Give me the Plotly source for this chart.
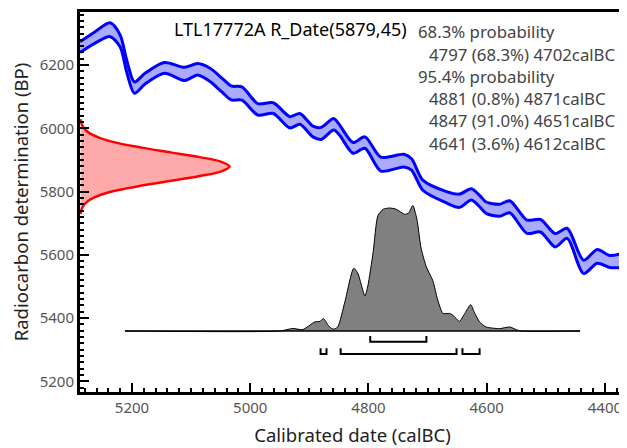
import plotly.graph_objects as go

# ---------------- data ----------------
sample_name = "LTL17772A"
r_date_bp = 5879
r_date_err = 45

# calibration curve: calBC, BP centre, 1-sigma half width
curve_calbc = [5288, 5263, 5237, 5220, 5209, 5196, 5178, 5145, 5111, 5089,
               5068, 5048, 5032, 5014, 4987, 4961, 4933, 4916, 4894, 4880,
               4859, 4849, 4826, 4806, 4779, 4740, 4727, 4708, 4668, 4646,
               4626, 4612, 4601, 4578, 4561, 4532, 4509, 4484, 4464, 4436,
               4413, 4392, 4367]
curve_bp = [6257, 6287, 6312, 6276, 6197, 6129, 6157, 6191, 6172, 6187,
            6169, 6137, 6112, 6110, 6060, 6064, 6019, 6030, 5990, 5984,
            6013, 5995, 5938, 5955, 5887, 5898, 5886, 5820, 5782, 5771,
            5791, 5770, 5749, 5741, 5752, 5689, 5692, 5646, 5668, 5562,
            5595, 5579, 5583]
curve_err = [17, 18, 22, 19, 19, 18, 17, 17, 21, 18,
             21, 22, 22, 21, 18, 17, 18, 17, 17, 19,
             18, 16, 17, 18, 22, 20, 18, 16, 18, 21,
             18, 18, 18, 19, 19, 21, 20, 21, 16, 21,
             22, 19, 23]

lik_bp = [5729, 5744, 5759, 5774, 5789, 5804, 5819, 5834, 5849, 5864, 5879,
          5894, 5909, 5924, 5939, 5954, 5969, 5984, 5999, 6014, 6029]
lik_density = [0.004, 0.011, 0.029, 0.066, 0.135, 0.249, 0.411, 0.607, 0.801, 0.946, 1.0,
               0.946, 0.801, 0.607, 0.411, 0.249, 0.135, 0.066, 0.029, 0.011, 0.004]

# calibrated posterior (relative probability)
post_calbc = [5212, 4950, 4928, 4911, 4891, 4882, 4876, 4868, 4860, 4852,
              4840, 4825, 4818, 4806, 4801, 4792, 4784, 4775, 4764, 4753,
              4739, 4732, 4725, 4718, 4711, 4702, 4691, 4683, 4674, 4663,
              4657, 4646, 4637, 4627, 4621, 4612, 4601, 4578, 4561, 4550,
              4542, 4442]
post_prob = [0, 0, 0.02, 0.011, 0.072, 0.077, 0.099, 0.045, 0.014, 0.032,
             0.23, 0.50, 0.46, 0.28, 0.36, 0.63, 0.92, 0.97, 0.98, 0.97,
             0.93, 0.94, 1.0, 0.89, 0.66, 0.51, 0.40, 0.25, 0.14, 0.14,
             0.125, 0.077, 0.14, 0.21, 0.15, 0.072, 0.032, 0.019, 0.032, 0.011,
             0, 0]

# ranges: (from, probability %, to)
range_68 = [(4797, 68.3, 4702)]
range_95 = [(4881, 0.8, 4871), (4847, 91.0, 4651), (4641, 3.6, 4612)]

# ---------------- style ----------------
x_range = [5288, 4366]
y_range = [5166, 6368]
lik_width = 253          # calBC units for peak of red likelihood
post_base = 5359         # BP level of posterior baseline
post_height = 397        # BP units for posterior peak
bracket68_y = 5325
bracket95_y = 5286
bracket_tick = 18

FONT = "Noto Sans"
BLUE = "#0000ff"
BLUE_FILL = "rgb(170,170,255)"
RED = "#ff0000"
RED_FILL = "rgb(255,170,170)"

fig = go.Figure()

# calibration curve band
upper = [b + e for b, e in zip(curve_bp, curve_err)]
lower = [b - e for b, e in zip(curve_bp, curve_err)]
fig.add_trace(go.Scatter(x=curve_calbc, y=upper, mode="lines",
                         line=dict(color=BLUE, width=3, shape="spline", smoothing=0.8),
                         hoverinfo="skip", showlegend=False))
fig.add_trace(go.Scatter(x=curve_calbc, y=lower, mode="lines",
                         line=dict(color=BLUE, width=3, shape="spline", smoothing=0.8),
                         fill="tonexty", fillcolor=BLUE_FILL,
                         hoverinfo="skip", showlegend=False))

# radiocarbon likelihood (red)
lik_x = [x_range[0] - d * lik_width for d in lik_density]
fig.add_trace(go.Scatter(x=lik_x, y=lik_bp, mode="lines",
                         line=dict(color=RED, width=2.5, shape="spline"),
                         fill="toself", fillcolor=RED_FILL,
                         hoverinfo="skip", showlegend=False))

# posterior (grey)
fig.add_trace(go.Scatter(x=[post_calbc[0], post_calbc[-1]], y=[post_base, post_base],
                         mode="lines", line=dict(color="black", width=1.5),
                         hoverinfo="skip", showlegend=False))
post_y = [post_base + p * post_height for p in post_prob]
fig.add_trace(go.Scatter(x=post_calbc, y=post_y, mode="lines",
                         line=dict(color="black", width=1, shape="spline", smoothing=0.6),
                         fill="tonexty", fillcolor="rgb(128,128,128)",
                         hoverinfo="skip", showlegend=False))


def bracket_xy(ranges, level):
    xs, ys = [], []
    for s, _, e in ranges:
        xs += [s, s, e, e, None]
        ys += [level + bracket_tick, level, level, level + bracket_tick, None]
    return xs, ys


for rng, lvl in ((range_68, bracket68_y), (range_95, bracket95_y)):
    bx, by = bracket_xy(rng, lvl)
    fig.add_trace(go.Scatter(x=bx, y=by, mode="lines",
                             line=dict(color="black", width=2),
                             hoverinfo="skip", showlegend=False))

# ---------------- texts ----------------
fig.add_annotation(x=0.169, y=0.954, xref="paper", yref="paper",
                   xanchor="left", yanchor="middle", showarrow=False,
                   text=f"{sample_name} R_Date({r_date_bp},{r_date_err})",
                   font=dict(family=FONT, size=18, color="black"))

lines = [("68.3% probability", False)]
lines += [(f"{s} ({p:.1f}%) {e}calBC", True) for s, p, e in range_68]
lines += [("95.4% probability", False)]
lines += [(f"{s} ({p:.1f}%) {e}calBC", True) for s, p, e in range_95]
y0 = 0.948
dy = 22.3 / 380
for i, (t, indent) in enumerate(lines):
    fig.add_annotation(x=0.637 if indent else 0.6157, y=y0 - i * dy,
                       xref="paper", yref="paper", xanchor="left", yanchor="middle",
                       showarrow=False, text=t,
                       font=dict(family=FONT, size=16.8, color="#444444"))

axis_common = dict(
    showgrid=False, zeroline=False, showline=True, linewidth=3, linecolor="black",
    mirror=True, ticks="inside", ticklen=9, tickwidth=2, tickcolor="black",
    tickfont=dict(family=FONT, size=15, color="#555555"), automargin=False,
)

# the page body adds an 8px offset, so the figure is sized to fill the rest
fig.update_layout(
    width=619, height=440,
    margin=dict(l=72, r=2, t=4, b=56),
    paper_bgcolor="white", plot_bgcolor="white",
    xaxis=dict(range=x_range, tick0=4400, dtick=200,
               minor=dict(dtick=20, ticks="inside", ticklen=4, tickwidth=1.5, tickcolor="black"),
               title=dict(text="Calibrated date (calBC)", standoff=14,
                          font=dict(family=FONT, size=18.5, color="#222222")),
               **axis_common),
    yaxis=dict(range=y_range, tick0=5200, dtick=200,
               minor=dict(dtick=20, ticks="inside", ticklen=4, tickwidth=1.5, tickcolor="black"),
               title=dict(text="Radiocarbon determination (BP)", standoff=10,
                          font=dict(family=FONT, size=18.5, color="#222222")),
               **axis_common),
)

fig.write_html("out.html")
